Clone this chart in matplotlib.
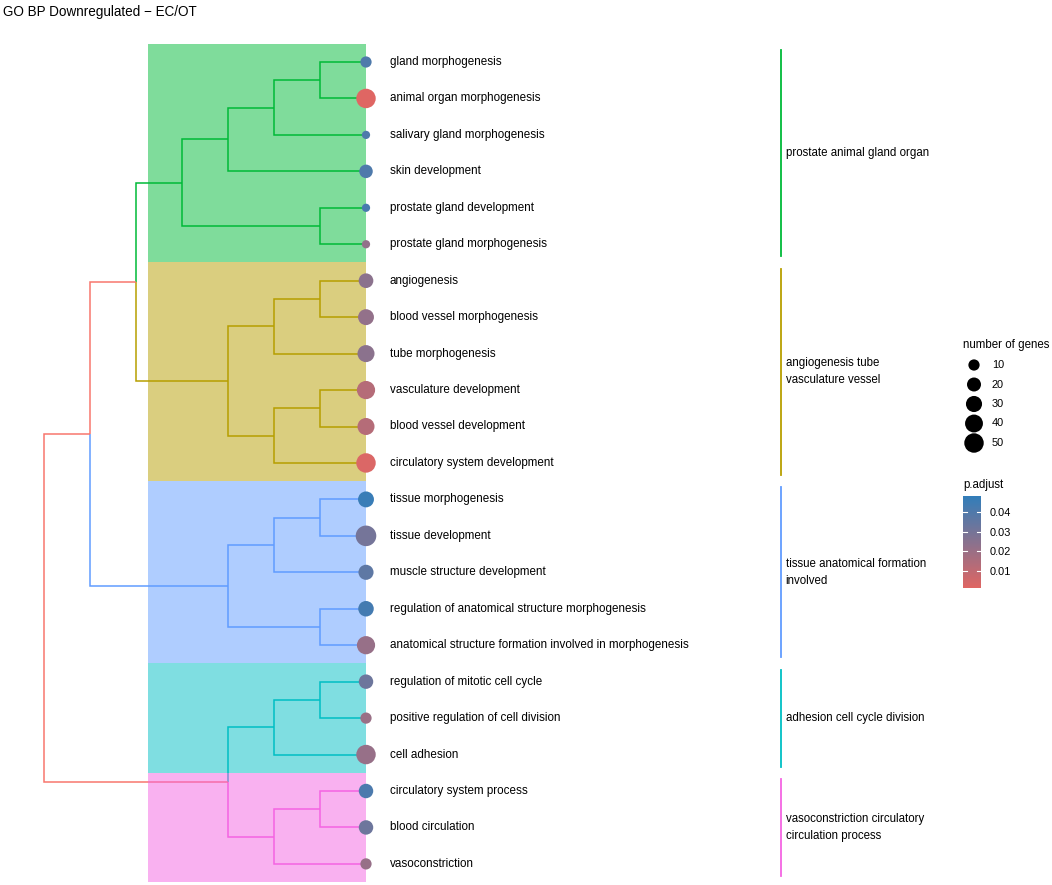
import numpy as np
import matplotlib
matplotlib.use("Agg")
import matplotlib.pyplot as plt
from matplotlib.colors import LinearSegmentedColormap, Normalize
from matplotlib.patches import Rectangle

plt.rcParams['font.family'] = ['Liberation Sans', 'DejaVu Sans']

# ---------------- data ----------------
title = "GO BP Downregulated \u2212 EC/OT"

terms = [
    "gland morphogenesis", "animal organ morphogenesis", "salivary gland morphogenesis",
    "skin development", "prostate gland development", "prostate gland morphogenesis",
    "angiogenesis", "blood vessel morphogenesis", "tube morphogenesis",
    "vasculature development", "blood vessel development", "circulatory system development",
    "tissue morphogenesis", "tissue development", "muscle structure development",
    "regulation of anatomical structure morphogenesis",
    "anatomical structure formation involved in morphogenesis",
    "regulation of mitotic cell cycle", "positive regulation of cell division", "cell adhesion",
    "circulatory system process", "blood circulation", "vasoconstriction",
]
gene_counts = [10, 50, 3, 18, 3, 3,
               23, 29, 35, 42, 35, 50,
               29, 58, 25, 27, 42,
               22, 10, 50,
               22, 22, 10]
p_adjust = [0.040, 0.0016, 0.040, 0.040, 0.042, 0.022,
            0.024, 0.022, 0.024, 0.013, 0.013, 0.003,
            0.046, 0.030, 0.036, 0.043, 0.021,
            0.032, 0.020, 0.021,
            0.041, 0.032, 0.021]
cluster_of_term = [0] * 6 + [1] * 6 + [2] * 5 + [3] * 3 + [4] * 3
cluster_labels = ["prostate animal gland organ",
                  "angiogenesis tube\nvasculature vessel",
                  "tissue anatomical formation\ninvolved",
                  "adhesion cell cycle division",
                  "vasoconstriction circulatory\ncirculation process"]
cluster_colors = ["#00BA38", "#B79F00", "#619CFF", "#00BFC4", "#F564E3"]
unclustered_color = "#F8766D"

# dendrogram: (height, left, right); leaves are term indices
tree = (7,
        (6,
         (5,
          (4, (3, (2, (1, 0, 1), 2), 3), (1, 4, 5)),
          (3, (2, (1, 6, 7), 8), (2, (1, 9, 10), 11))),
         (3, (2, (1, 12, 13), 14), (1, 15, 16))),
        (3, (2, (1, 17, 18), 19), (2, (1, 20, 21), 22)))

size_breaks = [10, 20, 30, 40, 50]
padj_ticks = [0.01, 0.02, 0.03, 0.04]
padj_limits = (0.0014, 0.048)
color_low, color_high = "#e06663", "#327eba"

# ---------------- layout / style ----------------
W, H = 1052, 885
LEAF_PX, LEVEL_PX = 366, 46
TOP_PX, ROW_PX = 62, 36.45
HILIGHT_X0 = -4.75
BAR_X = 9.02
LABEL_DX = 0.52

def diam_px(n):
    return 4.6 + 2.1 * np.sqrt(n)

def marker_s(n):
    return (np.asarray(diam_px(np.asarray(n, float))) * 0.72) ** 2

cmap = LinearSegmentedColormap.from_list("padj", [color_low, color_high])
norm = Normalize(*padj_limits)

fig = plt.figure(figsize=(W / 100, H / 100), dpi=100)
ax = fig.add_axes([0, 0, 1, 1])
ax.set_xlim(-LEAF_PX / LEVEL_PX, (W - LEAF_PX) / LEVEL_PX)
ax.set_ylim((H - TOP_PX) / ROW_PX, -TOP_PX / ROW_PX)
ax.axis('off')

LW = 1.1

def place(node):
    if isinstance(node, int):
        return 0.0, float(node), cluster_of_term[node]
    h, left, right = node
    x = -float(h)
    kids = [place(left), place(right)]
    y = np.mean([k[1] for k in kids])
    groups = {k[2] for k in kids}
    g = next(iter(groups)) if len(groups) == 1 else None
    for cx, cy, cg in kids:
        col = cluster_colors[cg] if cg is not None else unclustered_color
        ax.plot([x, x, cx], [y, cy, cy], color=col, lw=LW,
                solid_capstyle='butt', solid_joinstyle='miter', zorder=1)
    return x, y, g

place(tree)

idx = np.arange(len(terms))
cl = np.array(cluster_of_term)
for c, col in enumerate(cluster_colors):
    members = idx[cl == c]
    lo, hi = members.min(), members.max()
    ax.add_patch(Rectangle((HILIGHT_X0, lo - 0.5), 0 - HILIGHT_X0, hi - lo + 1,
                           facecolor=col, alpha=0.5, lw=0, zorder=2))
    ax.plot([BAR_X, BAR_X], [lo - 0.33, hi + 0.33], color=col, lw=1.3, zorder=2)
    ax.text(BAR_X + 0.1, (lo + hi) / 2, cluster_labels[c], va='center', ha='left',
            fontsize=8.3, linespacing=1.55, color='black')

ax.scatter(np.zeros(len(terms)), idx, s=marker_s(gene_counts), c=p_adjust,
           cmap=cmap, norm=norm, edgecolors='none', zorder=3)
for i, t in enumerate(terms):
    ax.text(LABEL_DX, i, t, va='center', ha='left', fontsize=8.4, color='black')

fig.text(3 / W, 1 - 12 / H, title, va='center', ha='left', fontsize=9.75)

# ---------------- legends ----------------
lax = fig.add_axes([0, 0, 1, 1], facecolor='none')
lax.set_xlim(0, W)
lax.set_ylim(H, 0)
lax.axis('off')
lax.text(963, 345, "number of genes", va='center', ha='left', fontsize=8.3)
for k, b in enumerate(size_breaks):
    yy = 365 + 19.5 * k
    lax.scatter([974], [yy], s=marker_s([b]), color='black', edgecolors='none')
    lax.text(992, yy, str(b), va='center', ha='left', fontsize=7.9)
lax.text(963, 485, "p.adjust", va='center', ha='left', fontsize=8.3)

cb_top, cb_bot, cb_left, cb_w = 496, 588, 963, 18
cax = fig.add_axes([cb_left / W, (H - cb_bot) / H, cb_w / W, (cb_bot - cb_top) / H])
grad = np.linspace(padj_limits[0], padj_limits[1], 256).reshape(-1, 1)
cax.imshow(grad, cmap=cmap, norm=norm, origin='lower', aspect='auto',
           extent=[0, 1, padj_limits[0], padj_limits[1]])
for t in padj_ticks:
    cax.plot([0, 0.2], [t, t], color='white', lw=0.8)
    cax.plot([0.8, 1], [t, t], color='white', lw=0.8)
cax.set_xlim(0, 1)
cax.set_ylim(*padj_limits)
cax.set_xticks([])
cax.yaxis.tick_right()
cax.set_yticks(padj_ticks)
cax.set_yticklabels([f"{t:.2f}" for t in padj_ticks])
cax.tick_params(length=0, pad=6, labelsize=7.9)
for s in cax.spines.values():
    s.set_visible(False)

fig.savefig("out.png", dpi=100)
